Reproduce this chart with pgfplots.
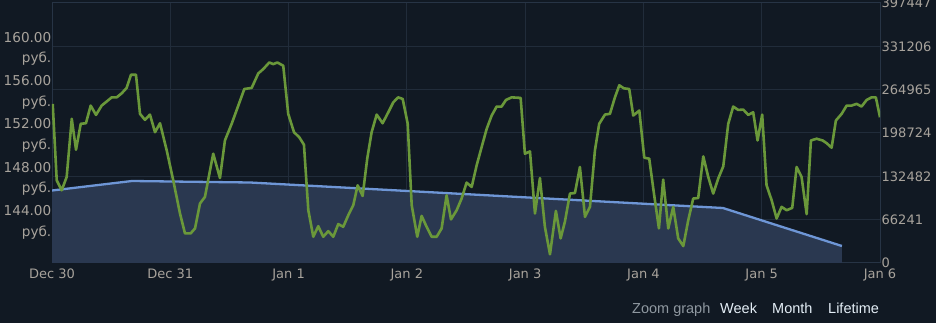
\documentclass[border=0pt]{standalone}
\usepackage{fontspec}
\setmainfont{DejaVu Sans}
\newfontfamily\zfont{Liberation Sans}
\usepackage{pgfplots}
\pgfplotsset{compat=1.18}
\definecolor{bg}{HTML}{111923}
\definecolor{gridc}{HTML}{212C3A}
\definecolor{framec}{HTML}{273445}
\definecolor{fillc}{HTML}{2A3850}
\definecolor{volc}{HTML}{6E96D6}
\definecolor{pricec}{HTML}{6A983A}
\definecolor{tickc}{HTML}{A8A39C}
\definecolor{zoomgrey}{HTML}{8F98A0}
\definecolor{zoomwhite}{HTML}{E4EEF6}
\begin{document}
\begin{tikzpicture}[x=1pt,y=1pt]
\path[use as bounding box, fill=bg] (0,0) rectangle (936,323);
\begin{axis}[
  at={(52pt,60pt)}, anchor=south west, scale only axis,
  width=828pt, height=260pt,
  xmin=0, xmax=7, ymin=0, ymax=397447,
  yticklabel pos=right,
  xtick={0,1,2,3,4,5,6,7},
  xticklabels={Dec 30,Dec 31,Jan 1,Jan 2,Jan 3,Jan 4,Jan 5,Jan 6},
  ytick={0,66241,132482,198724,264965,331206,397447},
  yticklabels={0,66241,132482,198724,264965,331206,397447},
  scaled y ticks=false,
  grid=major, major grid style={gridc, line width=1pt},
  axis line style={framec, line width=1pt},
  tick style={draw=none},
  ticklabel style={font=\fontsize{13}{13}\selectfont, text=tickc, inner sep=0pt},
  xticklabel style={yshift=-6pt},
  yticklabel style={anchor=west, xshift=1.5pt},
]
\addplot[fill=fillc, draw=none] coordinates {
(0,110824)(0.676,125345)(1.674,123052)(3.618,104099)(5.672,84073)(6.678,25986)
} \closedcycle;
\addplot[volc, line width=2.3pt, line join=round] coordinates {
(0,110824)(0.676,125345)(1.674,123052)(3.618,104099)(5.672,84073)(6.678,25986)
};
\end{axis}
\begin{axis}[
  at={(52pt,60pt)}, anchor=south west, scale only axis,
  width=828pt, height=260pt,
  xmin=0, xmax=7, ymin=140, ymax=164,
  axis line style={draw=none},
  xtick=\empty,
  ytick={144,148,152,156,160},
  yticklabels={{144.00\\руб.},{148.00\\руб.},{152.00\\руб.},{156.00\\руб.},{160.00\\руб.}},
  tick style={draw=none},
  yticklabel style={font=\fontsize{13.6}{20.5}\selectfont, text=tickc, inner sep=0pt, align=right, anchor=east, yshift=-2.5pt, xshift=-0.5pt},
]
\addplot[pricec, line width=2.6pt, line join=round] coordinates {
(0.006,154.69)(0.040,147.63)(0.082,146.71)(0.124,147.94)(0.167,153.31)(0.203,150.46)(0.243,152.85)(0.287,152.90)(0.327,154.53)(0.372,153.67)(0.420,154.53)(0.505,155.29)(0.547,155.29)(0.589,155.66)(0.631,156.16)(0.668,157.38)(0.710,157.38)(0.744,153.77)(0.786,153.21)(0.828,153.70)(0.871,152.07)(0.913,152.90)(0.970,150.39)(1.025,147.63)(1.082,144.57)(1.124,142.73)(1.172,142.73)(1.209,143.19)(1.251,145.49)(1.293,146.10)(1.363,150.09)(1.420,147.84)(1.462,151.31)(1.519,152.85)(1.575,154.53)(1.626,156.06)(1.688,156.16)(1.744,157.50)(1.786,157.90)(1.837,158.51)(1.871,158.36)(1.905,158.51)(1.955,158.21)(1.997,153.77)(2.046,152.07)(2.090,151.61)(2.130,150.92)(2.167,144.87)(2.209,142.42)(2.251,143.40)(2.293,142.42)(2.336,142.94)(2.378,142.42)(2.420,143.59)(2.462,143.34)(2.505,144.41)(2.547,145.33)(2.584,147.17)(2.626,146.19)(2.665,149.63)(2.702,152.07)(2.745,153.70)(2.795,152.90)(2.843,153.91)(2.885,154.83)(2.927,155.29)(2.965,155.14)(3.007,152.85)(3.041,145.33)(3.088,142.42)(3.125,144.35)(3.167,143.34)(3.210,142.42)(3.252,142.42)(3.294,143.19)(3.336,146.25)(3.373,144.02)(3.421,144.87)(3.463,145.95)(3.505,147.42)(3.548,147.02)(3.590,149.01)(3.632,150.69)(3.675,152.39)(3.717,153.61)(3.759,154.44)(3.801,154.44)(3.838,155.05)(3.886,155.29)(3.962,155.24)(3.998,150.09)(4.041,150.30)(4.083,144.57)(4.125,147.84)(4.167,143.34)(4.210,140.80)(4.260,144.81)(4.300,142.27)(4.336,143.80)(4.379,146.41)(4.421,146.46)(4.463,148.86)(4.506,144.26)(4.548,145.18)(4.590,150.39)(4.626,152.85)(4.675,153.70)(4.717,153.77)(4.759,155.29)(4.796,156.40)(4.835,156.12)(4.880,156.06)(4.914,153.61)(4.965,154.07)(5.007,149.72)(5.049,149.63)(5.089,146.41)(5.131,143.19)(5.167,147.70)(5.210,143.19)(5.252,145.18)(5.294,142.27)(5.337,141.56)(5.379,143.95)(5.421,145.95)(5.463,146.00)(5.506,149.84)(5.548,147.94)(5.590,146.41)(5.632,147.79)(5.675,148.92)(5.717,152.85)(5.759,154.44)(5.801,154.13)(5.844,154.16)(5.886,153.67)(5.928,153.91)(5.965,151.31)(6.004,153.70)(6.041,147.17)(6.084,145.79)(6.126,144.11)(6.168,145.18)(6.211,144.87)(6.258,145.09)(6.295,148.86)(6.337,147.94)(6.380,144.51)(6.416,151.31)(6.464,151.47)(6.515,151.31)(6.549,151.06)(6.591,150.64)(6.627,153.15)(6.676,153.77)(6.718,154.53)(6.760,154.53)(6.802,154.69)(6.844,154.44)(6.887,155.05)(6.929,155.29)(6.965,155.29)(7.000,153.45)
};
\end{axis}
\node[anchor=base west, inner sep=0pt, text=zoomgrey, font=\zfont\fontsize{14.5}{14.5}\selectfont] at (632,9) {Zoom graph};
\node[anchor=base west, inner sep=0pt, text=zoomwhite, font=\zfont\fontsize{14.5}{14.5}\selectfont] at (720,9) {Week};
\node[anchor=base west, inner sep=0pt, text=zoomwhite, font=\zfont\fontsize{14.5}{14.5}\selectfont] at (772,9) {Month};
\node[anchor=base west, inner sep=0pt, text=zoomwhite, font=\zfont\fontsize{14.5}{14.5}\selectfont] at (828,9) {Lifetime};
\end{tikzpicture}
\end{document}
